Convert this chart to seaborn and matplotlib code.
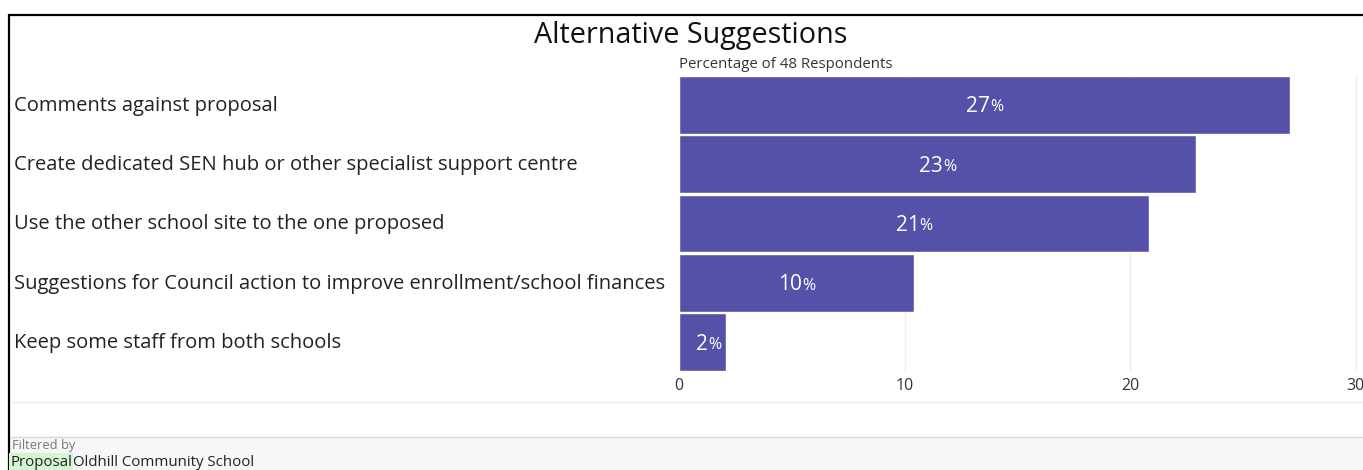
import matplotlib
matplotlib.use("Agg")
import matplotlib.pyplot as plt
import matplotlib.transforms as mtransforms
from matplotlib.patches import Rectangle
from matplotlib.lines import Line2D
import seaborn as sns
import pandas as pd

categories = [
    "Comments against proposal",
    "Create dedicated SEN hub or other specialist support centre",
    "Use the other school site to the one proposed",
    "Suggestions for Council action to improve enrollment/school finances",
    "Keep some staff from both schools",
]
values = [27.08, 22.92, 20.83, 10.42, 2.08]
xticks = [0, 10, 20, 30]
title = "Alternative Suggestions"
subtitle = "Percentage of 48 Respondents"

sns.set_theme(style="white")
FONT = ["Open Sans", "DejaVu Sans"]
plt.rcParams["font.family"] = FONT

W, H = 1363, 470
fig = plt.figure(figsize=(W / 100, H / 100), dpi=100)
fig.patch.set_facecolor("white")

def fx(px):
    return px / W

def fy(py):
    return 1 - py / H

ax = fig.add_axes([fx(679), fy(372), fx(1363) - fx(679), fy(75) - fy(372)])
df = pd.DataFrame({"cat": categories, "val": values})
sns.barplot(data=df, x="val", y="cat", orient="h", color="#5551A8",
            saturation=1, width=0.97, ax=ax)
ax.set_xlim(0, (1363 - 679) / 22.55)
ax.set_xticks(xticks)
ax.set_xticklabels([str(t) for t in xticks], fontsize=11.5, color="#333333")
ax.tick_params(axis="x", length=0, pad=4)
ax.set_yticks([])
ax.set_xlabel("")
ax.set_ylabel("")
for s in ax.spines.values():
    s.set_visible(False)
ax.xaxis.grid(True, color="#eeeeee", linewidth=1)
ax.set_axisbelow(True)

# bar labels
for i, v in enumerate(values):
    num = f"{round(v)}"
    ax.annotate(num, xy=(v / 2 + 0.25, i), xytext=(0, -1.5), textcoords="offset points",
                ha="right", va="center", color="white", fontsize=15)
    ax.annotate("%", xy=(v / 2 + 0.25, i), xytext=(0, -2), textcoords="offset points",
                ha="left", va="center", color="white", fontsize=11.5)

# category labels
trans = mtransforms.blended_transform_factory(fig.transFigure, ax.transData)
for i, c in enumerate(categories):
    fig.text(fx(14), i + 0.015, c, transform=trans, ha="left", va="center",
             fontsize=14.5, color="#222222")

fig.text(fx(691), fy(35), title, ha="center", va="center", fontsize=20.7,
         color="#111111")
fig.text(fx(679), fy(65), subtitle, ha="left", va="center", fontsize=10.8,
         color="#333333")

# frame lines
fig.add_artist(Line2D([fx(9), fx(9)], [fy(15), 0], color="black", linewidth=1.6,
                      transform=fig.transFigure))
fig.add_artist(Line2D([fx(9), 1], [fy(15), fy(15)], color="black", linewidth=1.6,
                      transform=fig.transFigure))
fig.add_artist(Line2D([fx(10), 1], [fy(402), fy(402)], color="#eeeeee",
                      linewidth=1, transform=fig.transFigure))
# footer
fig.add_artist(Rectangle((fx(10), 0), 1 - fx(10), fy(437), facecolor="#f7f7f7",
                         edgecolor="none", transform=fig.transFigure))
fig.add_artist(Line2D([fx(10), 1], [fy(437), fy(437)], color="#d8d8d8",
                      linewidth=1, transform=fig.transFigure))
fig.text(fx(12), fy(446), "Filtered by", ha="left", va="center", fontsize=9.3,
         color="#777777")
fig.text(fx(10), fy(462), "Proposal", ha="left", va="center", fontsize=10.8,
         color="#222222",
         bbox=dict(boxstyle="square,pad=0.1", facecolor="#d4f5d4", edgecolor="none"))
fig.text(fx(73), fy(462), "Oldhill Community School", ha="left", va="center",
         fontsize=10.8, color="#222222")

fig.savefig("out.png", dpi=100)
